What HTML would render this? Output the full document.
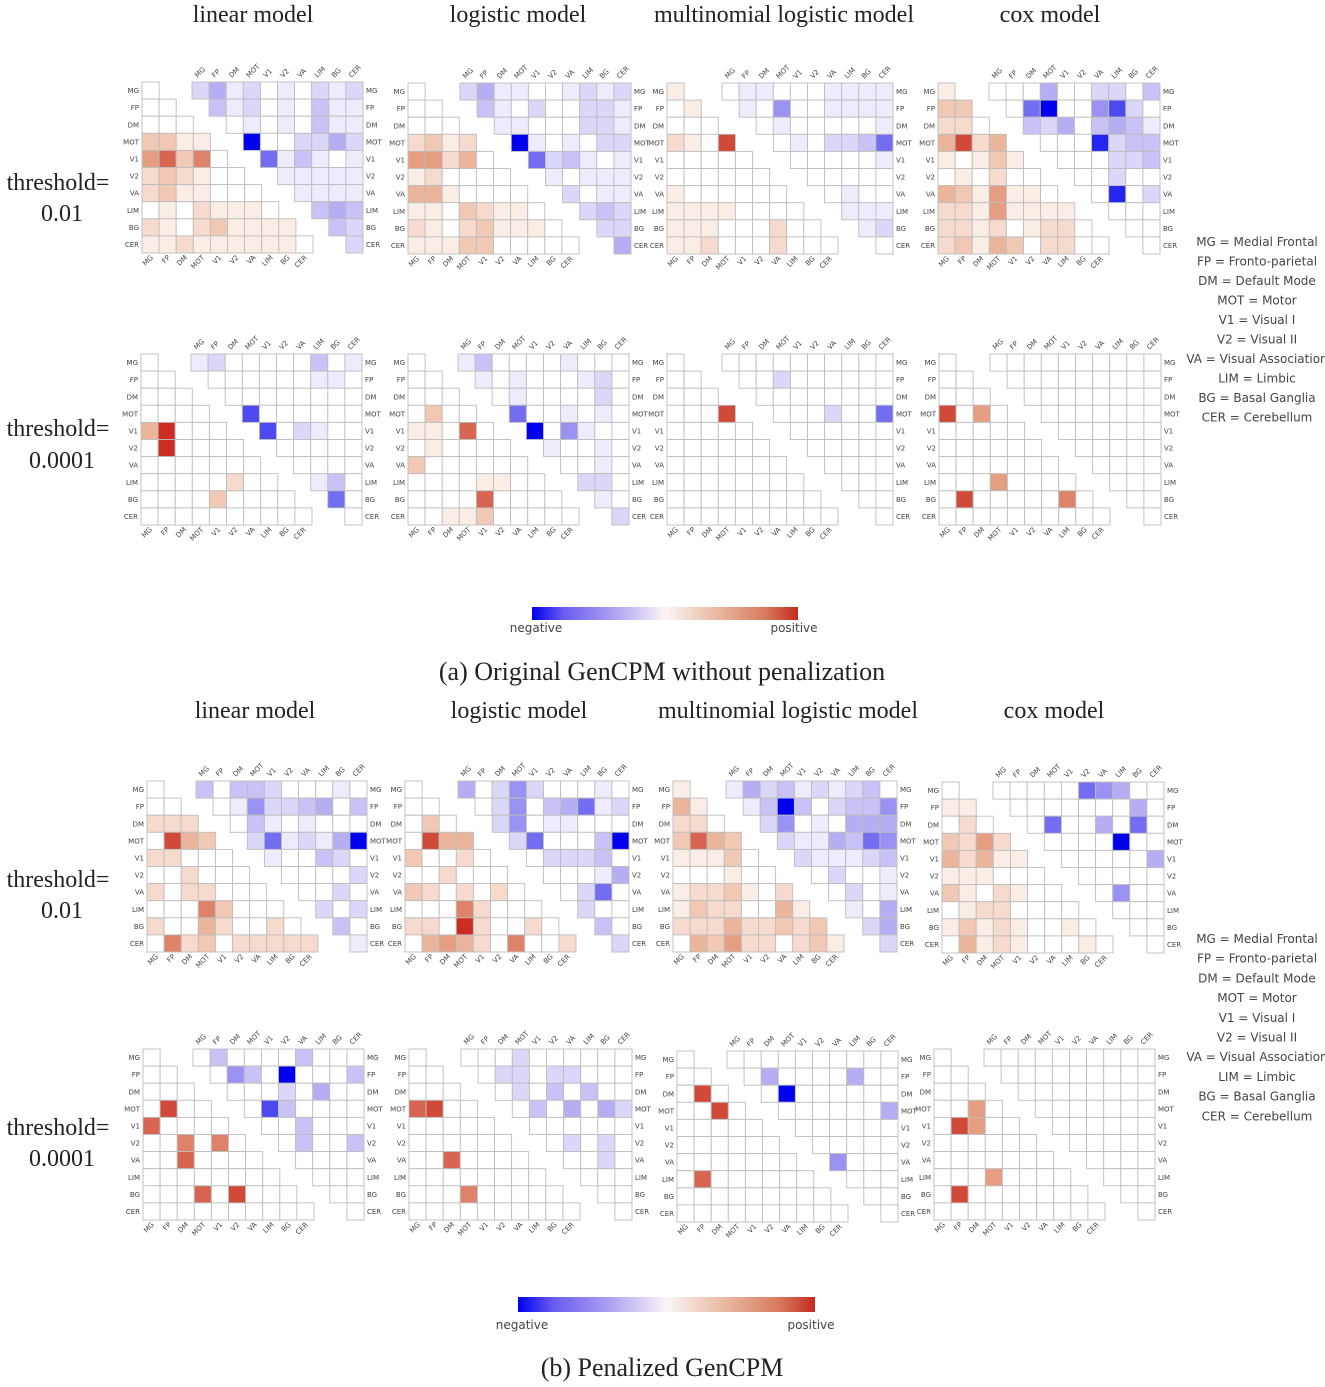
<!DOCTYPE html>
<html><head><meta charset="utf-8"><style>
html,body{margin:0;padding:0;background:#fff;}
svg{display:block;}
.t{font-family:"Liberation Serif",serif;fill:#222;}
.s{font-family:"DejaVu Sans","Liberation Sans",sans-serif;fill:#444;}
</style></head><body>
<svg id="fig" width="1325" height="1387" viewBox="0 0 1325 1387" xmlns="http://www.w3.org/2000/svg"></svg>
<script>
const nets = ["MG","FP","DM","MOT","V1","V2","VA","LIM","BG","CER"];
const modelTitles = ["linear model","logistic model","multinomial logistic model","cox model"];
const legendEntries = ["MG = Medial Frontal","FP = Fronto-parietal","DM = Default Mode","MOT = Motor","V1 = Visual I","V2 = Visual II","VA = Visual Association","LIM = Limbic","BG = Basal Ganglia","CER = Cerebellum"];
const posData = [
["0","00","000","3311","57360","232100","2311000","01021110","210231111","1121111110"],
["0","00","000","2312","55240","120000","4410000","11032110","210231110","1113300000"],
["1","01","000","2108","00000","000000","1000000","11110000","111000200","1120002000"],
["1","33","220","4824","10131","010200","4315110","22151111","221201220","2314302200"],
["0","00","000","0000","49000","090000","0000000","00000200","000030000","0000000000"],
["0","00","000","0300","11070","010000","3000000","00001100","000070000","0011300000"],
["0","00","000","0008","00000","000000","0000000","00000000","000000000","0000000000"],
["0","00","000","8050","00000","000000","0000000","00050000","080000060","0000000000"],
["0","00","222","0843","22000","002000","2022000","00063000","200420020","0623022222"],
["0","00","030","0844","30020","002000","3202020","00062000","220920020","0454206002"],
["1","41","220","3743","11130","000100","1223102","13220041","222422323","0435220231"],
["0","11","020","3252","42411","111000","3102100","01220000","131210010","0412100010"],
["0","00","000","0800","70000","006060","0070000","00000000","000708000","0000000000"],
["0","00","000","7800","00000","000000","0070000","00000000","000600000","0000000000"],
["0","00","080","0080","00000","000000","0000000","07000000","000000000","0000000000"],
["0","00","000","0050","08500","000000","0000000","00050000","080000000","0000000000"]];
const negData = [
["2412010212","312010311","01010311","9002242","613101","11111","1111","343","32","2"],
["2411001212","310200221","11000221","9101022","623101","10111","2011","232","22","4"],
["0110001111","105001111","01000001","0102236","000001","00000","0100","111","12","0"],
["0004002203","069005720","32403431","0008233","000223","00200","0802","000","00","0"],
["1200000301","000000110","00000000","7000000","702100","00000","0000","130","60","0"],
["1300001000","101000120","01000020","6001010","905100","10010","0010","220","10","2"],
["0000000000","002000000","00000000","0002006","000000","00000","0000","000","00","0"],
["0000000000","000000000","00000000","0000000","000000","00000","0000","000","00","0"],
["3033200010","015223403","03101000","2612149","100320","00002","0020","202","30","1"],
["4025200010","025034612","25011000","2600039","022230","00014","0260","200","30","2"],
["1423121230","139302335","25010444","2114365","211123","02001","0201","104","24","2"],
["0000065400","000000040","06004060","0000900","000004","00000","0500","000","00","0"],
["0300003000","053090003","00020400","0730000","003000","03003","0000","000","00","0"],
["0002000000","022022000","02030300","0304042","000000","02020","0020","000","00","0"],
["0000000000","040000400","09000000","0000004","000000","00000","5000","000","00","0"],
["0000000000","000000000","00000000","0000000","000000","00000","0000","000","00","0"]];
const panelModel = ["linear","logistic","multinomial","cox","linear","logistic","multinomial","cox","linear","logistic","multinomial","cox","linear","logistic","multinomial","cox"];

// layout: lower-grid left, top, upper-grid left
const layout = [
[142,82,192],[408,83,460],[667,83,722],[938,83,989],
[141,354,191],[408,354,458],[667,354,722],[939,354,990],
[147,781,196],[405,781,458],[673,781,726],[942,782,993],
[143,1049,193],[409,1049,461],[677,1051,727],[934,1049,984]];
const NS="http://www.w3.org/2000/svg";
const svg=document.getElementById('fig');
function mk(tag,attrs,parent){const e=document.createElementNS(NS,tag);for(const k in attrs)e.setAttribute(k,attrs[k]);(parent||svg).appendChild(e);return e;}
function lerp(a,b,t){return a.map((v,i)=>Math.round(v+(b[i]-v)*t));}
function colorFor(v,sign){
  const t=v/9;
  if(t<=0) return "#ffffff";
  const mid = sign>0?[232,172,142]:[172,164,242];
  const end = sign>0?[203,45,32]:[0,0,238];
  const c = t<0.5?lerp([255,255,255],mid,t/0.5):lerp(mid,end,(t-0.5)/0.5);
  return `rgb(${c[0]},${c[1]},${c[2]})`;
}
const C=17.1;
function xScale(x0,col){return x0+col*C;}
function yScale(y0,row){return y0+row*C;}

layout.forEach((L,p)=>{
  const [lx,ty,ux]=L;
  const g=mk('g',{});
  
  
  posData[p].forEach((row,i)=>{
    for(let j=0;j<row.length;j++){
      const r=mk('rect',{x:xScale(lx,j),y:yScale(ty,i),width:C,height:C,fill:colorFor(+row[j],1),stroke:'#bdbdbd','stroke-width':0.9},g);
      
      
    }
  });
  negData[p].forEach((row,i)=>{
    for(let k=0;k<row.length;k++){
      const j=i+k;
      const r=mk('rect',{x:xScale(ux,j),y:yScale(ty,i),width:C,height:C,fill:colorFor(+row[k],-1),stroke:'#bdbdbd','stroke-width':0.9},g);
      
      
    }
  });
  nets.forEach((n,i)=>{
    const a=mk('text',{x:lx-3,y:yScale(ty,i)+C/2+2.5,'text-anchor':'end','font-size':7,class:'s'},g);a.textContent=n;
    
    const b=mk('text',{x:xScale(ux,10)+3,y:yScale(ty,i)+C/2+2.5,'font-size':7,class:'s'},g);b.textContent=n;
    
    const cx=xScale(ux,i)+C/2, cy=ty-4;
    const c=mk('text',{x:cx-3,y:cy,'font-size':7,class:'s',transform:`rotate(-45 ${cx-3} ${cy})`},g);c.textContent=n;
    
    const dx=xScale(lx,i)+C/2+3, dy=yScale(ty,10)+5;
    const d=mk('text',{x:dx,y:dy,'font-size':7,'text-anchor':'end',class:'s',transform:`rotate(-45 ${dx} ${dy})`},g);d.textContent=n;
    
  });
});

function txt(s,x,y,size,cls,anchor,name){const t=mk('text',{x:x,y:y,'font-size':size,class:cls,'text-anchor':anchor||'middle'});t.textContent=s;
  return t;}
const titleX=[253,518,784,1050], titleX2=[255,519,788,1054];
modelTitles.forEach((m,i)=>{txt(m,titleX[i],22,24,'t','middle','model-title');txt(m,titleX2[i],718,24,'t','middle','model-title');});
[[190,221],[436,468],[887,918],[1135,1166]].forEach((yy,i)=>{
  txt('threshold=',58,yy[0],24,'t','middle','threshold-label');
  txt(i%2==0?'0.01':'0.0001',62,yy[1],24,'t','middle','threshold-value');
});
legendEntries.forEach((s,i)=>{
  txt(s,1257,246+i*19.5,12,'s','middle','legend-entry');
  txt(s,1257,943+i*19.7,12,'s','middle','legend-entry');
});
const defs=mk('defs',{});
const grad=mk('linearGradient',{id:'cb',x1:0,x2:1,y1:0,y2:0},defs);
[[0,'#0000ee'],[0.12,'#6a5cf0'],[0.3,'#a99ef2'],[0.5,'#fbf5f6'],[0.7,'#e8b7a0'],[0.88,'#d77a5c'],[1,'#c42a20']].forEach(s=>mk('stop',{offset:s[0],'stop-color':s[1]},grad));
[[532,607,266,13,628],[518,1297,297,15,1325]].forEach((b,i)=>{
  const r=mk('rect',{x:b[0],y:b[1],width:b[2],height:b[3],fill:'url(#cb)'});
  
  txt('negative',b[0]+4,b[4]+4,12,'s','middle','colorbar-negative-label');
  txt('positive',b[0]+b[2]-4,b[4]+4,12,'s','middle','colorbar-positive-label');
});
txt('(a) Original GenCPM without penalization',662,680,26,'t','middle','caption-a');
txt('(b) Penalized GenCPM',662,1376,26,'t','middle','caption-b');
</script>
</body></html>
